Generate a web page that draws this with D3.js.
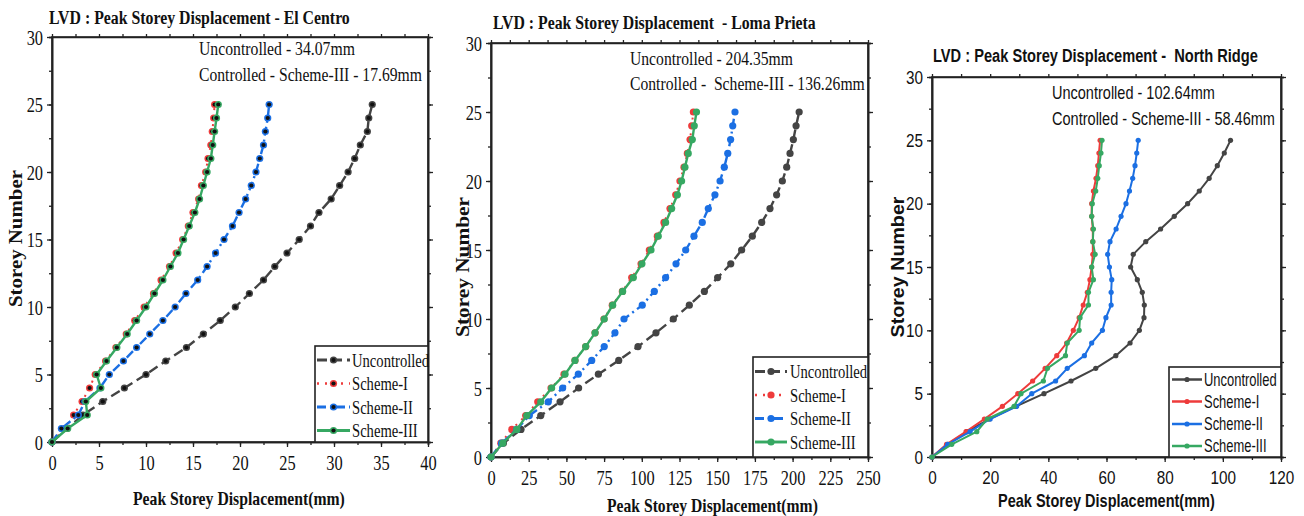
<!DOCTYPE html>
<html>
<head>
<meta charset="utf-8">
<script src="https://cdn.jsdelivr.net/npm/d3@7"></script>
<style>
  body { margin: 0; background: #fff; }
  svg { display: block; }
  text { white-space: pre; }
</style>
</head>
<body>
<svg id="chart" width="1304" height="516"></svg>
<script>
// ---- data ----------------------------------------------------------
const storeys = [0,1,2,3,4,5,6,7,8,9,10,11,12,13,14,15,16,17,18,19,20,21,22,23,24,25];
const seriesNames = ["Uncontrolled", "Scheme-I", "Scheme-II", "Scheme-III"];
const storeyTicks = [0,5,10,15,20,25,30];

// El Centro (mm)
const elCentroUncontrolled = [0,1.6,3.3,5.4,7.7,10.0,12.1,14.3,16.1,17.9,19.5,21.0,22.5,23.7,25.0,26.3,27.5,28.4,29.7,30.6,31.5,32.2,32.8,33.55,33.7,34.07];
const elCentroScheme1     = [0,1.35,2.3,3.2,4.0,4.6,5.7,6.8,7.9,8.8,9.8,10.8,11.6,12.5,13.2,13.9,14.5,15.0,15.6,15.9,16.35,16.6,16.9,17.05,17.2,17.3];
const elCentroScheme2     = [0,1.0,2.8,3.5,5.1,6.1,7.6,9.0,10.4,11.8,13.1,14.25,15.5,16.5,17.4,18.3,19.2,19.9,20.6,21.2,21.7,22.1,22.5,22.7,22.95,23.1];
const elCentroScheme3     = [0,1.67,3.75,3.6,5.2,4.75,5.8,6.9,8.0,9.0,10.0,10.9,11.8,12.6,13.4,14.0,14.6,15.2,15.7,16.1,16.5,16.9,17.1,17.3,17.5,17.69];
const elCentroTicks = [0,5,10,15,20,25,30,35,40];

// Loma Prieta (mm)
const lomaUncontrolled = [0,8.2,19.9,33.0,45.8,58.1,71.2,84.7,97.5,109.4,120.9,131.5,141.5,150.3,159.0,166.2,173.3,179.5,185.0,189.4,193.2,196.1,198.3,200.5,202.3,204.35];
const lomaScheme1      = [0,6.5,13.8,23.0,31.0,39.8,48.4,55.7,62.8,69.0,74.9,80.4,87.1,93.3,99.5,105.0,110.3,114.7,118.7,122.5,125.3,128.0,130.2,132.0,133.1,134.2];
const lomaScheme2      = [0,7.0,17.0,25.4,38.0,47.5,57.9,66.8,75.1,82.2,88.2,100.3,108.3,115.8,122.7,129.1,134.6,140.1,144.1,148.5,151.9,154.7,157.0,158.9,160.3,161.8];
const lomaScheme3      = [0,7.8,17.1,23.7,33.0,40.2,49.1,55.7,62.8,69.0,75.1,80.7,87.3,94.4,100.1,106.1,110.9,115.8,119.8,123.6,126.4,128.6,130.8,133.5,134.8,136.26];
const lomaTicks = [0,25,50,75,100,125,150,175,200,225,250];

// North Ridge (mm)
const northUncontrolled = [0,5.5,12.0,19.7,28.9,38.5,47.8,56.3,63.2,68.1,71.3,72.9,73.0,72.3,70.6,68.3,69.2,73.5,78.6,83.3,87.9,91.9,95.3,98.1,100.5,102.64];
const northScheme1      = [0,5.0,11.7,18.0,24.2,29.5,34.6,38.9,42.9,46.3,48.6,50.6,52.0,53.4,54.3,54.9,55.3,55.3,55.3,54.9,54.9,55.5,56.4,57.0,57.4,57.8];
const northScheme2      = [0,5.4,13.1,20.0,29.1,34.3,42.5,46.5,52.4,54.9,58.6,59.8,61.6,61.6,61.8,61.0,60.4,61.2,63.3,65.0,66.7,67.9,69.0,69.8,70.4,70.9];
const northScheme3      = [0,6.8,15.4,19.0,28.2,30.6,38.3,39.7,45.9,46.5,50.6,50.9,53.8,53.8,55.5,54.9,56.1,55.3,55.5,54.9,55.1,56.3,57.0,57.5,58.1,58.46];
const northTicks = [0,20,40,60,80,100,120];

const titles = [
  "LVD : Peak Storey Displacement - El Centro",
  "LVD : Peak Storey Displacement  - Loma Prieta",
  "LVD : Peak Storey Displacement -  North Ridge"
];
const notes = [
  ["Uncontrolled - 34.07mm", "Controlled - Scheme-III - 17.69mm"],
  ["Uncontrolled - 204.35mm", "Controlled -  Scheme-III - 136.26mm"],
  ["Uncontrolled - 102.64mm", "Controlled - Scheme-III - 58.46mm"]
];
const xTitle = "Peak Storey Displacement(mm)";
const yTitle = "Storey Number";

// ---- styling ---------------------------------------------------------
const colors = ["#444444", "#ee3b3b", "#1b6fe3", "#36a862"];
const SERIF = "'Liberation Serif','Times New Roman',serif";
const SANS = "'Liberation Sans',Arial,sans-serif";

const svg = d3.select("#chart");

// Text squeezed horizontally to a given width (or rotated for the y title).
function fixedText(g, str, x, y, o) {
  const wrap = g.append("g");
  const t = wrap.append("text")
    .attr("font-family", o.family)
    .attr("font-size", o.size)
    .attr("font-weight", o.weight || "normal")
    .attr("fill", "#111")
    .attr("text-anchor", o.anchor || "start")
    .text(str);
  const natural = t.node().getComputedTextLength();
  const sx = o.width ? o.width / natural : 1;
  const rot = o.rotate ? ` rotate(${o.rotate})` : "";
  wrap.attr("transform", `translate(${x},${y})${rot} scale(${sx},1)`);
  return t;
}

function drawPanel(p) {
  const g = svg.append("g");
  const x = d3.scaleLinear().domain([0, p.xmax]).range([p.x0, p.x1]);
  const y = d3.scaleLinear().domain([0, 30]).range([p.y0, p.y1]);
  const font = p.family;

  // frame
  g.append("rect")
    .attr("x", p.x0).attr("y", p.y1)
    .attr("width", p.x1 - p.x0).attr("height", p.y0 - p.y1)
    .attr("fill", "none").attr("stroke", "#222").attr("stroke-width", 1.6);

  const minorX = d3.range(0, p.xmax + 1e-9, p.xStep / 2);
  const minorY = d3.range(0, 30 + 1e-9, 2.5);

  // bottom axis: major + minor
  const bx = g.append("g").attr("transform", `translate(0,${p.y0})`)
    .call(d3.axisBottom(x).tickValues(p.xTicks).tickSize(5).tickPadding(9).tickSizeOuter(0));
  bx.append("g").call(d3.axisBottom(x).tickValues(minorX).tickSize(3).tickFormat(""));
  // top axis: ticks only
  g.append("g").attr("transform", `translate(0,${p.y1})`)
    .call(d3.axisTop(x).tickValues(minorX).tickSize(3).tickFormat("").tickSizeOuter(0));
  // left axis
  const ly = g.append("g").attr("transform", `translate(${p.x0},0)`)
    .call(d3.axisLeft(y).tickValues(storeyTicks).tickSize(5).tickPadding(4).tickSizeOuter(0));
  ly.append("g").call(d3.axisLeft(y).tickValues(minorY).tickSize(3).tickFormat(""));
  // right axis
  const ry = g.append("g").attr("transform", `translate(${p.x1},0)`)
    .call(d3.axisRight(y).tickValues(storeyTicks).tickSize(5).tickFormat("").tickSizeOuter(0));
  ry.append("g").call(d3.axisRight(y).tickValues(minorY).tickSize(3).tickFormat(""));

  g.selectAll(".domain").attr("stroke", "#222").attr("stroke-width", 1.6);
  g.selectAll(".tick line").attr("stroke", "#222").attr("stroke-width", 1.3);
  bx.selectAll(".tick text")
    .attr("font-family", font).attr("font-size", p.tickSize).attr("fill", "#111")
    .attr("transform", `scale(${p.tickSx},1)`);
  ly.selectAll(".tick text")
    .attr("font-family", font).attr("font-size", p.tickSize).attr("fill", "#111")
    .attr("x", -9 / p.tickSx).attr("dy", "0.35em")
    .attr("transform", `scale(${p.tickSx},1)`);

  // series
  const line = d3.line().x(d => x(d[0])).y(d => y(d[1]));
  p.series.forEach((vals, i) => {
    const pts = vals.map((v, k) => [v, storeys[k]]);
    const st = p.lineStyles[i];
    g.append("path").datum(pts)
      .attr("d", line)
      .attr("fill", "none")
      .attr("stroke", colors[i])
      .attr("stroke-width", st.w)
      .attr("stroke-dasharray", st.dash || null)
      .attr("stroke-linejoin", "round");
    const mk = g.append("g");
    mk.selectAll("circle.o").data(pts).join("circle")
      .attr("cx", d => x(d[0])).attr("cy", d => y(d[1]))
      .attr("r", p.markR).attr("fill", colors[i]);
    if (p.blackCore) {
      mk.selectAll("circle.c").data(pts).join("circle")
        .attr("cx", d => x(d[0])).attr("cy", d => y(d[1]))
        .attr("r", 2.1).attr("fill", "#111");
    }
  });

  // legend
  const L = p.legend;
  const lg = g.append("g");
  lg.append("rect").attr("x", L.x).attr("y", L.y).attr("width", L.w).attr("height", L.h)
    .attr("fill", "#fff").attr("stroke", "#222").attr("stroke-width", 1.6);
  seriesNames.forEach((name, i) => {
    const ry0 = L.rows[i];
    const st = p.lineStyles[i];
    lg.append("line")
      .attr("x1", L.sx0).attr("x2", L.sx1).attr("y1", ry0).attr("y2", ry0)
      .attr("stroke", colors[i]).attr("stroke-width", st.w + 0.5)
      .attr("stroke-dasharray", st.legendDash || null);
    const cx = (L.sx0 + L.sx1) / 2;
    lg.append("circle").attr("cx", cx).attr("cy", ry0).attr("r", p.markR).attr("fill", colors[i]);
    if (p.blackCore) lg.append("circle").attr("cx", cx).attr("cy", ry0).attr("r", 2.1).attr("fill", "#111");
    lg.append("g").attr("transform", `translate(${L.tx},${ry0}) scale(${L.textSx},1)`)
      .append("text")
      .attr("dy", "0.35em")
      .attr("font-family", font).attr("font-size", L.size).attr("fill", "#111")
      .text(name);
  });

  // titles and notes
  const T = p.text;
  fixedText(g, p.title, T.title[0], T.title[1], { family: font, size: T.titleSize, weight: "bold", width: T.title[2] });
  fixedText(g, p.notes[0], T.n1[0], T.n1[1], { family: font, size: T.noteSize, width: T.n1[2] });
  fixedText(g, p.notes[1], T.n2[0], T.n2[1], { family: font, size: T.noteSize, width: T.n2[2] });
  fixedText(g, xTitle, T.xl[0], T.xl[1], { family: font, size: T.axisSize, weight: "bold", width: T.xl[2] });
  fixedText(g, yTitle, T.yl[0], T.yl[1], { family: font, size: T.axisSize, weight: "bold", width: T.yl[2], anchor: "middle", rotate: -90 });
}

const serifStyles = [
  { w: 2.4, dash: "10,5", legendDash: "10,5" },
  { w: 2.0, dash: "2,6", legendDash: "2,6" },
  { w: 2.4, dash: "9,4,2,4", legendDash: "9,4,2,4" },
  { w: 2.4, dash: null, legendDash: null }
];
const sansStyles = [
  { w: 2.0 }, { w: 2.0 }, { w: 2.0 }, { w: 2.0 }
];

drawPanel({
  x0: 52, x1: 428, y0: 442, y1: 37, xmax: 40, xStep: 5, xTicks: elCentroTicks,
  family: SERIF, tickSize: 20, tickSx: 0.82,
  series: [elCentroUncontrolled, elCentroScheme1, elCentroScheme2, elCentroScheme3],
  lineStyles: serifStyles, markR: 3.6, blackCore: true,
  legend: { x: 315, y: 346, w: 113, h: 96, rows: [360, 383.5, 407, 430.5], sx0: 317, sx1: 350, tx: 352, size: 19.5, textSx: 0.75 },
  title: titles[0], notes: notes[0],
  text: {
    titleSize: 19.5, noteSize: 19.5, axisSize: 18.5,
    title: [49, 24, 301], n1: [199, 55, 156], n2: [199, 81, 223],
    xl: [133, 505, 212], yl: [22, 238.5, 137]
  }
});

drawPanel({
  x0: 491, x1: 868, y0: 457, y1: 43, xmax: 250, xStep: 25, xTicks: lomaTicks,
  family: SERIF, tickSize: 20, tickSx: 0.82,
  series: [lomaUncontrolled, lomaScheme1, lomaScheme2, lomaScheme3],
  lineStyles: serifStyles, markR: 3.6, blackCore: false,
  legend: { x: 753, y: 357, w: 115, h: 100, rows: [371.5, 395, 418.5, 442], sx0: 755, sx1: 787, tx: 790, size: 19.5, textSx: 0.75 },
  title: titles[1], notes: notes[1],
  text: {
    titleSize: 19.5, noteSize: 19.5, axisSize: 18.5,
    title: [493, 28.5, 323], n1: [630, 65, 163], n2: [630, 90, 235],
    xl: [607, 512, 211], yl: [469, 267, 140]
  }
});

drawPanel({
  x0: 932, x1: 1281, y0: 457, y1: 77, xmax: 120, xStep: 20, xTicks: northTicks,
  family: SANS, tickSize: 18, tickSx: 0.85,
  series: [northUncontrolled, northScheme1, northScheme2, northScheme3],
  lineStyles: sansStyles, markR: 2.6, blackCore: false,
  legend: { x: 1169, y: 367, w: 112, h: 90, rows: [379.5, 401.5, 424, 446], sx0: 1172, sx1: 1202, tx: 1204, size: 17.5, textSx: 0.74 },
  title: titles[2], notes: notes[2],
  text: {
    titleSize: 17.5, noteSize: 18, axisSize: 17.5,
    title: [933, 61.5, 325], n1: [1052, 99, 163], n2: [1052, 125, 223],
    xl: [998, 507, 217], yl: [904, 267, 141]
  }
});
</script>
</body>
</html>
